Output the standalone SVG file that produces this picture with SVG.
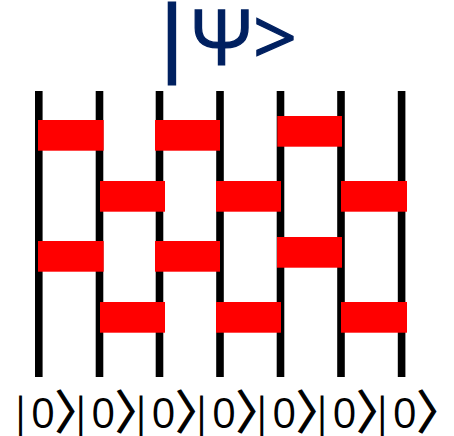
<svg xmlns="http://www.w3.org/2000/svg" width="454" height="436" viewBox="0 0 454 436">
<style>
.wire{stroke:#000;stroke-width:7.6;fill:none}
.gate{fill:#FF0000}
.t{font-family:"Open Sans","DejaVu Sans",sans-serif}
.ket{font-family:"Open Sans","DejaVu Sans",sans-serif;font-size:42px;fill:#000}
.br{font-family:"Noto Sans CJK JP","DejaVu Sans",sans-serif;font-size:46px;stroke:#000;stroke-width:1.2}
.tt{fill:#002060;stroke:#002060}
</style>
<rect width="454" height="436" fill="#fff"/>
<g id="wires">
<line class="wire" x1="38.8" y1="91" x2="38.8" y2="377"/>
<line class="wire" x1="99.5" y1="91" x2="99.5" y2="377"/>
<line class="wire" x1="159.5" y1="91" x2="159.5" y2="377"/>
<line class="wire" x1="220" y1="91" x2="220" y2="377"/>
<line class="wire" x1="280.5" y1="91" x2="280.5" y2="377"/>
<line class="wire" x1="341" y1="91" x2="341" y2="377"/>
<line class="wire" x1="401.6" y1="91" x2="401.6" y2="377"/>
</g>
<g id="gate-r1-1"><rect class="gate" x="38" y="120" width="65.7" height="30.7"/></g>
<g id="gate-r1-2"><rect class="gate" x="155" y="120" width="65" height="30.7"/></g>
<g id="gate-r1-3"><rect class="gate" x="277.3" y="116" width="64.7" height="30.7"/></g>
<g id="gate-r2-1"><rect class="gate" x="100" y="181" width="65" height="30.7"/></g>
<g id="gate-r2-2"><rect class="gate" x="216" y="181" width="65" height="30.7"/></g>
<g id="gate-r2-3"><rect class="gate" x="341" y="181" width="66" height="30.7"/></g>
<g id="gate-r3-1"><rect class="gate" x="38" y="241" width="65.7" height="30.7"/></g>
<g id="gate-r3-2"><rect class="gate" x="155" y="241" width="65" height="30.7"/></g>
<g id="gate-r3-3"><rect class="gate" x="277" y="237" width="65" height="30.7"/></g>
<g id="gate-r4-1"><rect class="gate" x="100" y="302" width="65" height="30.7"/></g>
<g id="gate-r4-2"><rect class="gate" x="216" y="302" width="65" height="30.7"/></g>
<g id="gate-r4-3"><rect class="gate" x="341" y="302" width="66" height="30.7"/></g>
<g id="title">
<text class="t tt" y="65"><tspan x="150" font-size="80" stroke-width="3">|</tspan><tspan x="191" font-size="77" stroke-width="1.2">Ψ</tspan><tspan x="253" font-size="77" stroke-width="1.2">&gt;</tspan></text>
</g>
<g id="kets">
<text class="ket" y="428"><tspan x="9">|</tspan><tspan x="31">0</tspan><tspan class="br" x="55">〉</tspan><tspan x="69.3">|</tspan><tspan x="91.3">0</tspan><tspan class="br" x="115.3">〉</tspan><tspan x="129.6">|</tspan><tspan x="151.6">0</tspan><tspan class="br" x="175.6">〉</tspan><tspan x="189.9">|</tspan><tspan x="211.9">0</tspan><tspan class="br" x="235.9">〉</tspan><tspan x="250.2">|</tspan><tspan x="272.2">0</tspan><tspan class="br" x="296.2">〉</tspan><tspan x="310.5">|</tspan><tspan x="332.5">0</tspan><tspan class="br" x="356.5">〉</tspan><tspan x="370.8">|</tspan><tspan x="392.8">0</tspan><tspan class="br" x="416.8">〉</tspan></text>
</g>
</svg>
